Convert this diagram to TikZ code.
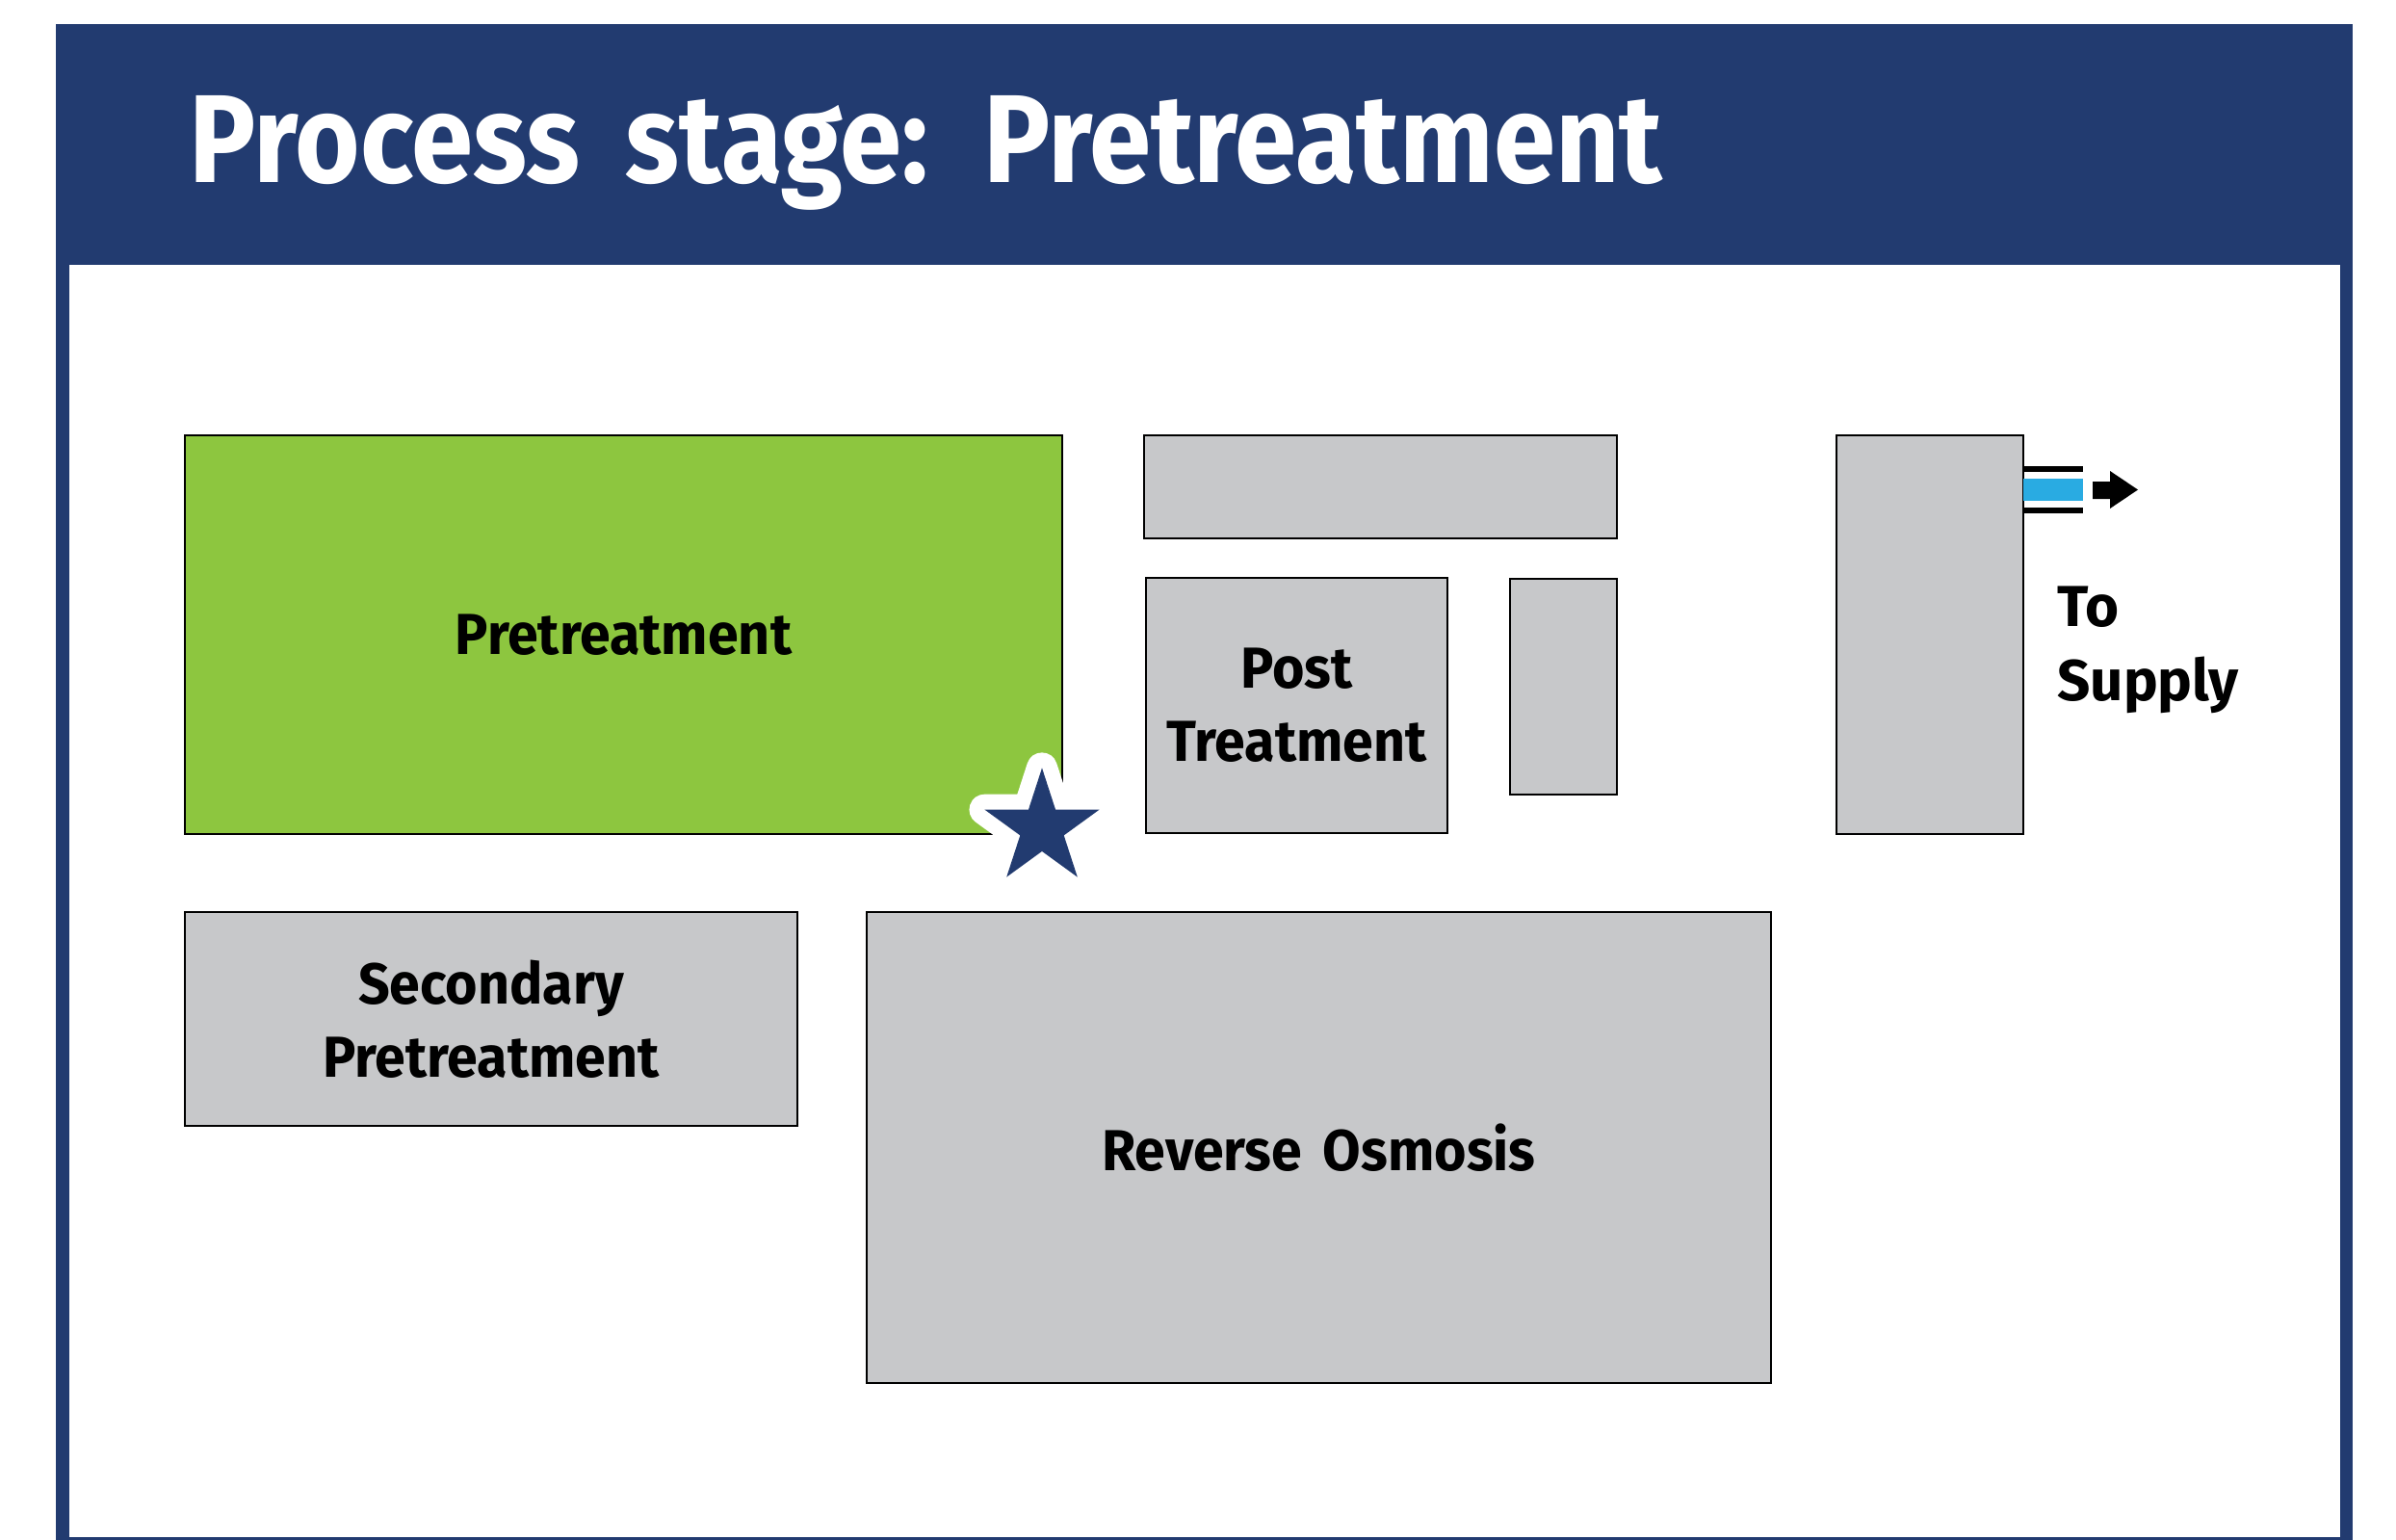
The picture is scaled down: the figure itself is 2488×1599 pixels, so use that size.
\documentclass[tikz,border=0pt]{standalone}
\usepackage{fontspec}
\setmainfont{Fira Sans}
\newfontfamily\titlefont[FakeStretch=0.89, WordSpace=1.75]{Fira Sans}
\newfontfamily\lblfont[FakeStretch=0.955, WordSpace=1.6]{Fira Sans}
\usetikzlibrary{fit}
\definecolor{navy}{HTML}{223B70}
\definecolor{pgreen}{HTML}{8DC63F}
\definecolor{pgray}{HTML}{C7C8CA}
\definecolor{pblue}{HTML}{29ABE2}
\tikzset{
  box/.style={draw=black, line width=1.2pt, inner sep=0pt},
  graybox/.style={box, fill=pgray},
  greenbox/.style={box, fill=pgreen},
  lbl/.style={font=\lblfont\fontsize{30}{38}\selectfont\bfseries, align=center, text=black, inner sep=0pt},
  sidelbl/.style={font=\fontsize{30}{38.5}\selectfont\bfseries, align=left, text=black, inner sep=0pt},
}
\begin{document}
\begin{tikzpicture}[x=0.5pt, y=-0.5pt]
\useasboundingbox (0,0) rectangle (2488,1599);
% frame
\fill[navy] (58,25) rectangle (2443,1610);
\fill[white] (72,275) rectangle (2430,1596);
\node[anchor=base west, text=white, font=\titlefont\fontsize{65}{78}\selectfont\bfseries, inner sep=0pt] (title) at (196,190) {Process stage: Pretreatment};
% boxes
\node[greenbox, fit={(192,452) (1103,866)}] (pre) {};
\node[graybox, fit={(1188,452) (1679,559)}] (topbar) {};
\node[graybox, fit={(1190,600) (1503,865)}] (post) {};
\node[graybox, fit={(1568,601) (1679,825)}] (small) {};
\node[graybox, fit={(1907,452) (2101,866)}] (tank) {};
\node[graybox, fit={(192,947) (828,1169)}] (sec) {};
\node[graybox, fit={(900,947) (1839,1436)}] (ro) {};
% labels
\node[lbl] (preL) at (pre.center) {Pretreatment};
\node[lbl] (postL) at (post.center) {Post\\Treatment};
\node[lbl] (secL) at (sec.center) {Secondary\\Pretreatment};
\node[lbl] (roL) at (ro.center) {Reverse Osmosis};
\node[sidelbl, anchor=base west] (supL) at (2136,727) {To\\Supply};
% pipe and arrow
\fill[black] (2101,484) rectangle (2163,490);
\fill[pblue] (2101,497) rectangle (2163,520);
\fill[black] (2101,527) rectangle (2163,533);
\fill[black] (2173,500) -- (2191,500) -- (2191,489) -- (2220,508.5) -- (2191,528) -- (2191,518) -- (2173,518) -- cycle;
% star
\draw[white, line width=16pt, line join=round, shift={(1082,860)}]
  (-90:62.6) -- (-54:23.9) -- (-18:62.6) -- (18:23.9) -- (54:62.6) -- (90:23.9) -- (126:62.6) -- (162:23.9) -- (198:62.6) -- (234:23.9) -- cycle;
\fill[navy, shift={(1082,860)}]
  (-90:62.6) -- (-54:23.9) -- (-18:62.6) -- (18:23.9) -- (54:62.6) -- (90:23.9) -- (126:62.6) -- (162:23.9) -- (198:62.6) -- (234:23.9) -- cycle;
\end{tikzpicture}
\end{document}
